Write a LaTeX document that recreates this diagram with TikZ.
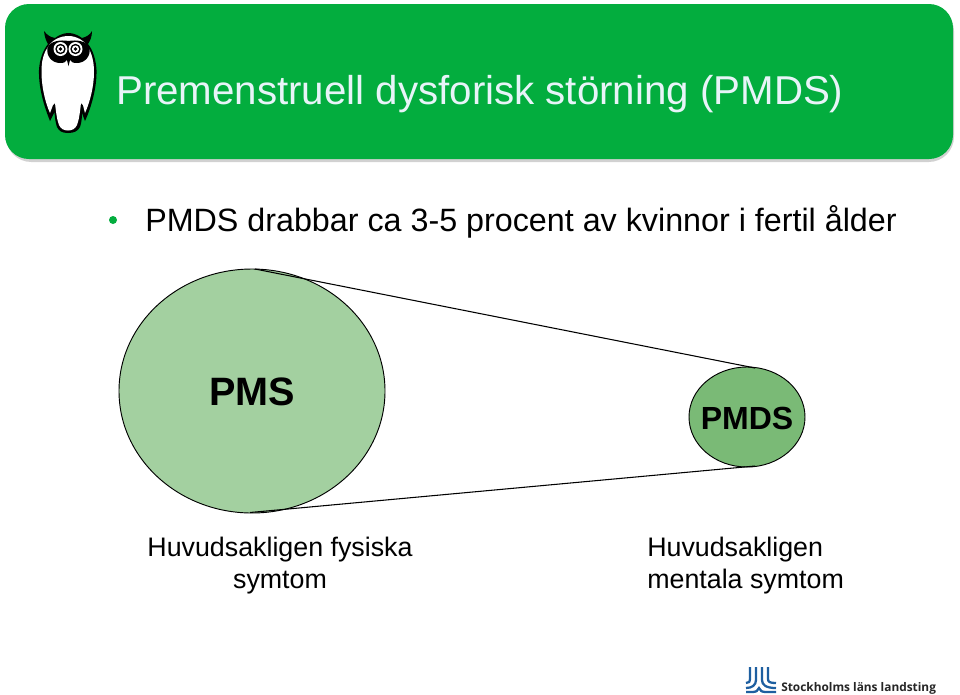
\documentclass[tikz,border=0pt]{standalone}
\usepackage{fontspec}
\setmainfont{Liberation Sans}
\newfontfamily\logofont{Open Sans}
\usetikzlibrary{shapes.geometric}
\definecolor{headgreen}{RGB}{3,173,62}
\definecolor{titleblue}{RGB}{232,244,248}
\definecolor{pmsfill}{RGB}{163,208,160}
\definecolor{pmdsfill}{RGB}{122,186,118}
\definecolor{logoblue}{RGB}{30,95,160}
\tikzset{
 bubble/.style={ellipse,draw=black,line width=0.7pt,inner sep=0pt},
 tangent/.style={draw=black,line width=0.8pt},
 body/.style={font=\fontsize{24.2}{28}\selectfont,text=black,inner sep=0pt},
 caption/.style={font=\fontsize{20.1}{24}\selectfont,text=black,inner sep=0pt,align=center},
}
\begin{document}
\begin{tikzpicture}[x=0.75pt,y=-0.75pt]
\useasboundingbox (0,0) rectangle (960,694);
\fill[white] (0,0) rectangle (960,694);
% header shadow + bar
\fill[black!18,rounded corners=19pt] (6,6) rectangle (954,162);
\fill[headgreen,rounded corners=18pt] (5,4) rectangle (953,159);
% owl: black silhouette
\fill[black] (44,31) .. controls (47,35) and (50,37) .. (55,38) .. controls (59,35) and (64,33) .. (68.5,33) .. controls (73,33) and (78,35) .. (82,38) .. controls (86,37) and (90,35) .. (92,31) .. controls (92,37) and (90,41) .. (88,44)
 .. controls (93,50) and (96,60) .. (96.5,70) .. controls (97,88) and (91,108) .. (85,121) -- (82,113) .. controls (82,120) and (81,124) .. (80,127) .. controls (78,131) and (74,133) .. (68,133) .. controls (62,133) and (59,131) .. (57,127) .. controls (56,124) and (55,120) .. (54.5,112) -- (50,121) .. controls (44,106) and (38.5,88) .. (39,70) .. controls (39.5,60) and (43,50) .. (48,44) .. controls (46,41) and (44.5,36) .. (44,31) -- cycle;
% owl: white body
\fill[white] (68.5,36) .. controls (60,36) and (52,40) .. (48,47) .. controls (43,54) and (41.5,62) .. (41.5,72) .. controls (41.5,86) and (45,102) .. (50,113) -- (53,105) -- (55,103) .. controls (56,112) and (57,120) .. (59,125) .. controls (61,129) and (64,130.5) .. (68,130.5) .. controls (72,130.5) and (75,129) .. (77,125) .. controls (79,120) and (80,112) .. (81,103) -- (83,105) -- (85,113) .. controls (90,102) and (94,86) .. (94,72) .. controls (94,62) and (92,54) .. (88,47) .. controls (84,40) and (76,36) .. (68.5,36) -- cycle;
% owl: mask
\fill[black] (68.5,41) .. controls (60,39.5) and (50,41) .. (47.5,48) .. controls (46,56) and (52,63) .. (60,63) .. controls (64,63) and (66,62) .. (67,60) -- (68.5,66) -- (70,60) .. controls (71,62) and (73,63) .. (77,63) .. controls (85,63) and (91,56) .. (89.5,48) .. controls (87,41) and (77,39.5) .. (68.5,41) -- cycle;
\foreach \ex in {60.5,75.5}{
 \fill[white] (\ex,49) circle (7);
 \fill[black] (\ex,49) circle (5.2);
 \fill[white] (\ex,49) circle (3.6);
 \fill[black] (\ex,49) circle (1.9);
}
% title
\node[anchor=base west,inner sep=0pt,text=titleblue,font=\fontsize{30.2}{34}\selectfont] (title) at (116,104) {Premenstruell dysforisk störning (PMDS)};
% bullet
\node[anchor=center,circle,fill=headgreen,inner sep=0pt,minimum size=6pt] (dot) at (113,220) {};
\node[body,anchor=base west] (line) at (145,231) {PMDS drabbar ca 3-5 procent av kvinnor i fertil ålder};
% connectors behind bubbles
\coordinate (pmstop) at (255,269);
\coordinate (pmsbot) at (250,512.5);
\coordinate (pmdstop) at (755,368);
\coordinate (pmdsbot) at (755,466);
\node[bubble,fill=pmsfill,minimum width=199.5pt,minimum height=183pt] (pms) at (252,391) {};
\node[bubble,fill=pmdsfill,minimum width=87pt,minimum height=75pt] (pmds) at (747,417) {};
\draw[tangent] (pmstop) -- (pmdstop);
\draw[tangent] (pmsbot) -- (pmdsbot);
\node[inner sep=0pt,font=\fontsize{29.7}{32}\selectfont\bfseries] (pmsl) at (252,392) {PMS};
\node[inner sep=0pt,font=\fontsize{24}{28}\selectfont\bfseries] (pmdsl) at (747,418) {PMDS};
\node[caption,anchor=base] (c1) at (280,556) {Huvudsakligen fysiska};
\node[caption,anchor=base] (c1b) at (280,588) {symtom};
\node[caption,anchor=base west] (c2) at (647,556) {Huvudsakligen};
\node[caption,anchor=base west] (c2b) at (647,588) {mentala symtom};
% logo
\begin{scope}[logoblue,line width=1.7pt]
 \draw (750,667) -- (750,678) .. controls (750,682) and (749,683) .. (746,683);
 \draw (756,667) -- (756,680) .. controls (756,685) and (752,688) .. (746,688);
 \draw (762,667) -- (762,680) .. controls (762,685) and (766,688) .. (776,688);
 \draw (768,667) -- (768,679) .. controls (768,682) and (770,683) .. (776,683);
 \draw (746,692) -- (752,692) .. controls (756,692) and (758,691) .. (759,688) .. controls (760,691) and (762,692) .. (766,692) -- (776,692);
\end{scope}
\node[anchor=base west,inner sep=0pt,font=\logofont\bfseries\fontsize{8.9}{12}\selectfont,text=black!85] (logo) at (781,691) {Stockholms läns landsting};
\end{tikzpicture}
\end{document}
